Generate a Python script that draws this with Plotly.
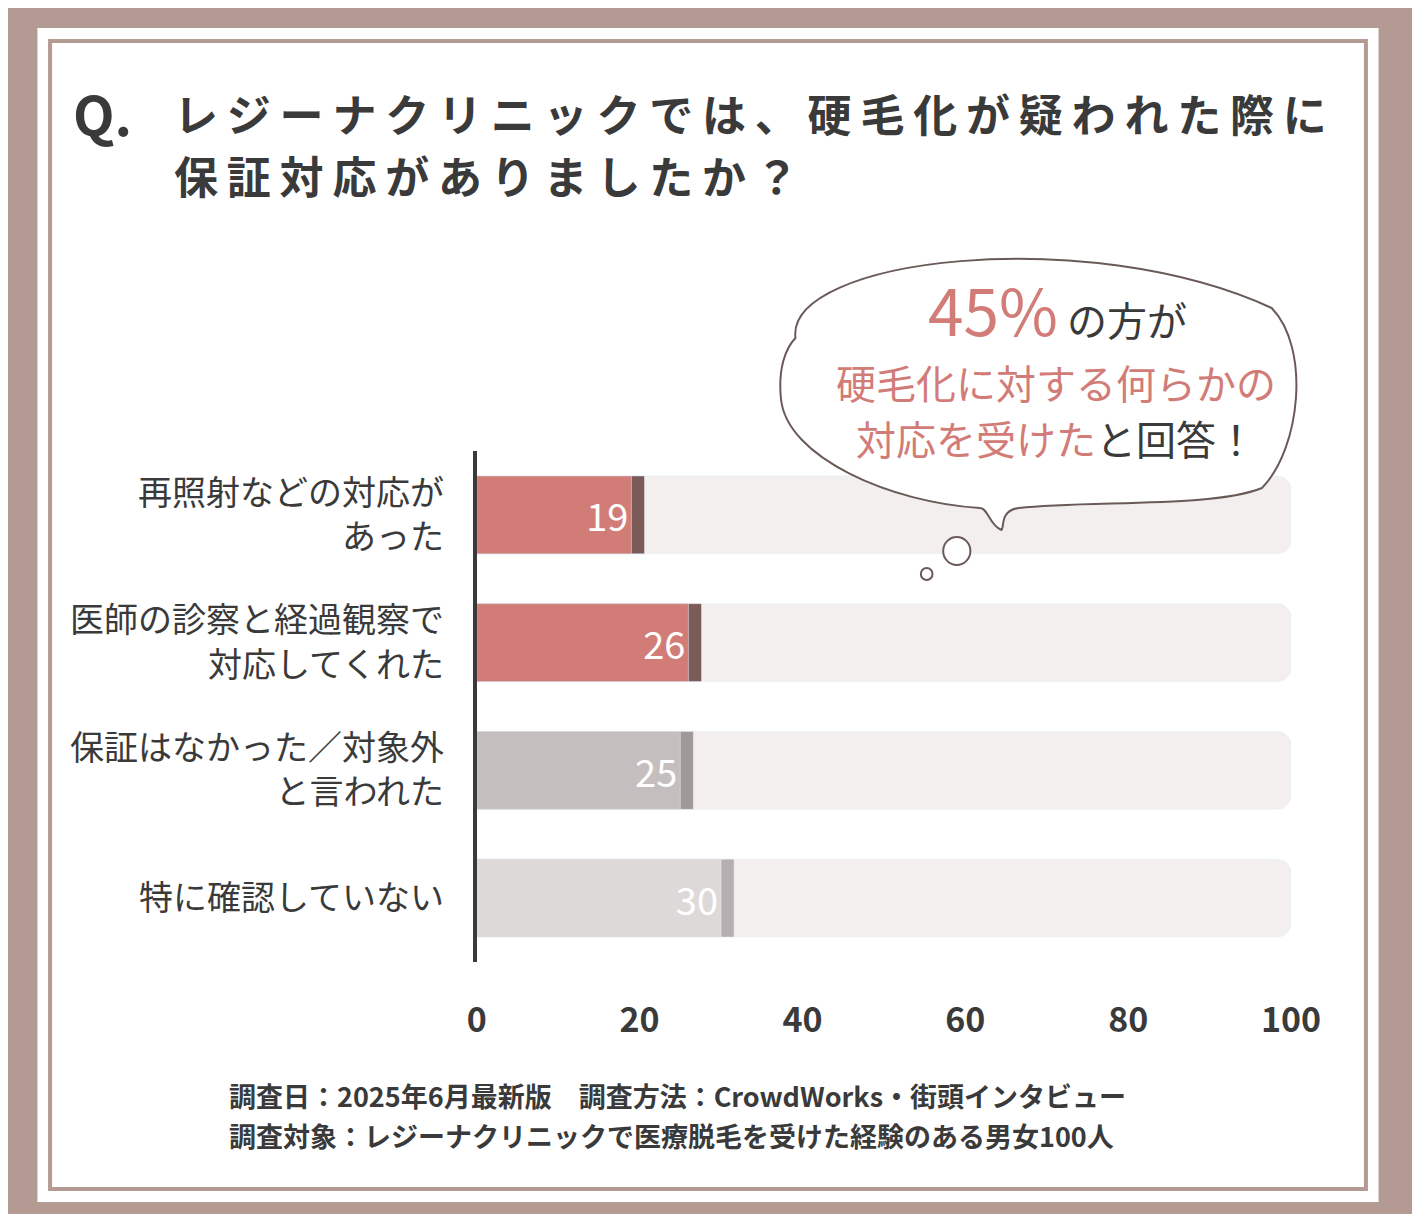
import plotly.graph_objects as go

categories = ["再照射などの対応が<br>あった", "医師の診察と経過観察で<br>対応してくれた",
              "保証はなかった／対象外<br>と言われた", "特に確認していない"]
values = [19, 26, 25, 30]
bar_colors = ["#d27c78", "#d27c78", "#c4bfbe", "#dcd9d8"]
shadow_colors = ["#7a5b58", "#7a5b58", "#9e9896", "#b5b0af"]
x_ticks = [0, 20, 40, 60, 80, 100]

W, H = 1420, 1214
FONT = "Noto Sans CJK JP"


def px(x, y):
    return x / W, 1 - y / H


fig = go.Figure()
fig.add_trace(go.Bar(y=categories, x=[100] * 4, orientation="h", marker_color="#f2efee",
                     width=0.61, hoverinfo="skip", showlegend=False))
fig.add_trace(go.Bar(y=categories, x=[v + 1.6 for v in values], orientation="h",
                     marker_color=shadow_colors, width=0.61, showlegend=False))
fig.add_trace(go.Bar(y=categories, x=values, orientation="h", marker_color=bar_colors,
                     width=0.61, text=[str(v) for v in values], textposition="inside",
                     insidetextanchor="end", textfont=dict(color="white", size=38, family=FONT),
                     showlegend=False))

shapes = []
# frame
shapes.append(dict(type="rect", xref="paper", yref="paper", x0=px(20, 0)[0], x1=px(1400, 0)[0],
                   y0=px(0, 1194)[1], y1=px(0, 20)[1], fillcolor="white", line_width=0, layer="below"))
shapes.append(dict(type="rect", xref="paper", yref="paper", x0=px(33, 0)[0], x1=px(1387, 0)[0],
                   y0=px(0, 1181)[1], y1=px(0, 33)[1], fillcolor="white",
                   line=dict(color="#b39a93", width=4), layer="below"))

# speech bubble
start = px(800, 330)
path = "M {0},{1} ".format(*start)
path += "C {0},{1} {2},{3} {4},{5} ".format(*px(790, 250), *px(1100, 215), *px(1290, 300))
path += "C {0},{1} {2},{3} {4},{5} ".format(*px(1330, 340), *px(1320, 440), *px(1280, 480))
path += "C {0},{1} {2},{3} {4},{5} ".format(*px(1230, 500), *px(1100, 492), *px(1030, 500))
path += "C {0},{1} {2},{3} {4},{5} ".format(*px(1010, 502), *px(1015, 520), *px(1012, 522))
path += "C {0},{1} {2},{3} {4},{5} ".format(*px(1000, 518), *px(998, 500), *px(990, 500))
path += "C {0},{1} {2},{3} {4},{5} ".format(*px(900, 495), *px(790, 450), *px(785, 390))
path += "C {0},{1} {2},{3} {4},{5} Z".format(*px(782, 360), *px(790, 340), *start)
shapes.append(dict(type="path", xref="paper", yref="paper", path=path, fillcolor="white",
                   line=dict(color="#6a5a57", width=2)))
for cx, cy, r in [(966, 543, 14), (935, 566, 6)]:
    x0, y0 = px(cx - r, cy + r)
    x1, y1 = px(cx + r, cy - r)
    shapes.append(dict(type="circle", xref="paper", yref="paper", x0=x0, x1=x1, y0=y0, y1=y1,
                       fillcolor="white", line=dict(color="#6a5a57", width=2)))

sp = "\u2009"
ann = []
def text(x, y, t, size, color="#3a3a3a", xanchor="left", align="left"):
    ax, ay = px(x, y)
    ann.append(dict(xref="paper", yref="paper", x=ax, y=ay, text=t, showarrow=False,
                    xanchor=xanchor, yanchor="middle", align=align,
                    font=dict(family=FONT, size=size, color=color)))

text(55, 105, "<b>Q.</b>", 54)
text(158, 105, "<b>" + sp.join("レジーナクリニックでは、硬毛化が疑われた際に") + "</b>", 44)
text(158, 167, "<b>" + sp.join("保証対応がありましたか？") + "</b>", 44)
text(1070, 300, "<span style='font-size:64px;color:#d27c78'>45%</span> の方が", 40, xanchor="center")
text(1068, 374, "硬毛化に対する何らかの", 40, color="#d27c78", xanchor="center")
text(1068, 430, "<span style='color:#d27c78'>対応を受けた</span>と回答！", 40, xanchor="center")
text(215, 1087, "<b>調査日：2025年6月最新版　調査方法：CrowdWorks・街頭インタビュー</b>", 27)
text(215, 1127, "<b>調査対象：レジーナクリニックで医療脱毛を受けた経験のある男女100人</b>", 27)

fig.update_layout(
    width=W, height=H, margin=dict(l=0, r=0, t=0, b=0),
    paper_bgcolor="#b39a93", plot_bgcolor="rgba(0,0,0,0)",
    barmode="overlay", barcornerradius=14, shapes=shapes, annotations=ann,
    xaxis=dict(domain=[472 / W, 1310 / W], range=[0, 100], tickvals=x_ticks,
               ticktext=["<b>%d</b>" % t for t in x_ticks],
               showgrid=False, zeroline=False, ticklabelstandoff=35,
               tickfont=dict(family=FONT, size=34, color="#3a3a3a"), fixedrange=True),
    yaxis=dict(domain=[(H - 954) / H, (H - 443) / H], autorange="reversed",
               showline=True, linecolor="#3a3a3a", linewidth=4, ticks="",
               ticklabelstandoff=22, tickfont=dict(family=FONT, size=34, color="#3a3a3a")),
)
fig.write_html("out.html")
